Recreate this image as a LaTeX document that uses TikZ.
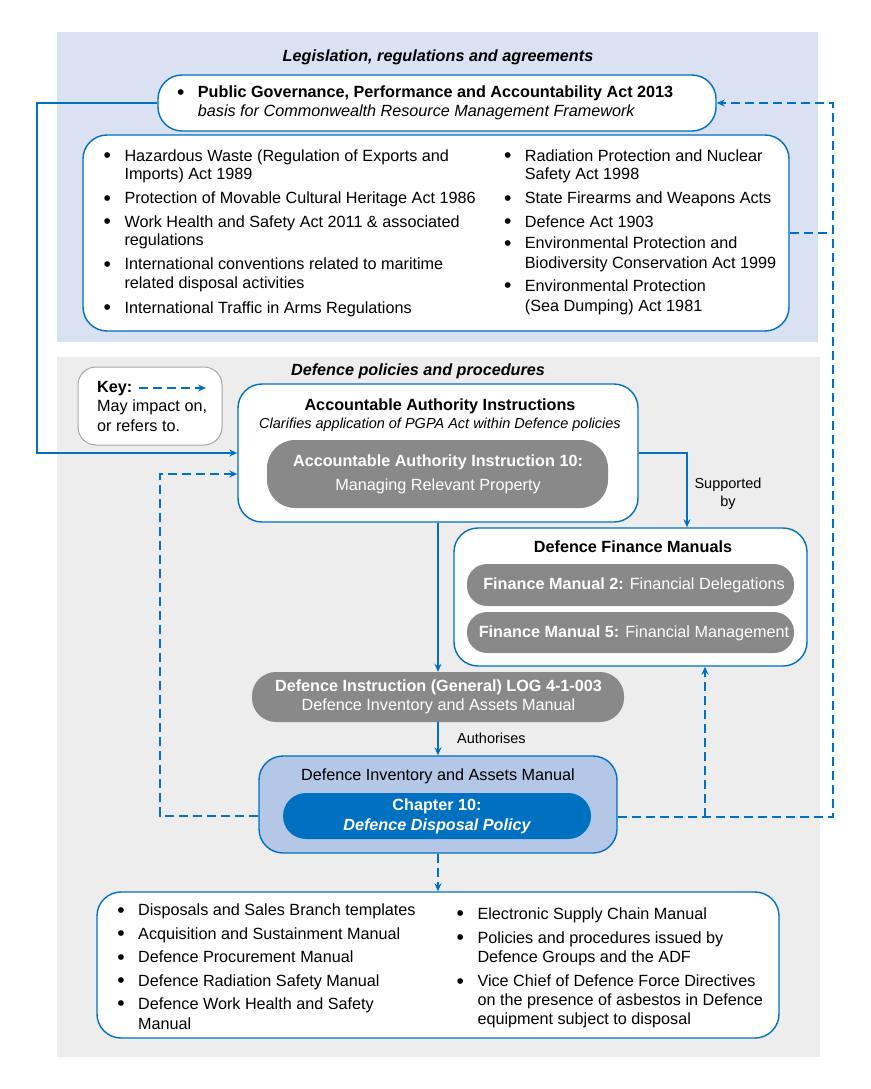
\documentclass[tikz,border=0pt]{standalone}
\usepackage{fontspec}
\setmainfont{Liberation Sans}
\usetikzlibrary{arrows.meta,calc}
\definecolor{myblue}{HTML}{0070C0}
\definecolor{topbg}{HTML}{D9E1F2}
\definecolor{greybg}{HTML}{EDEDED}
\definecolor{boxgrey}{HTML}{898989}
\definecolor{diamfill}{HTML}{B4C7E7}
\definecolor{keygrey}{HTML}{A6A6A6}
\newcommand\mybul{\raisebox{-1.6pt}{\scalebox{1.3}{\textbullet}}}
\newcommand\bline[4]{\node[txt,anchor=base west] (#1) at (#2,#3) {#4};}
\newcommand\bitem[4]{\node[txt,anchor=base west] (#1) at (#2,#3) {#4};
  \node[txt,anchor=base] (#1b) at ($(#2,#3)+(-17,0)$) {\mybul};}
\begin{document}
\begin{tikzpicture}[x=1pt,y=-1pt,
  txt/.style={inner sep=0pt, font=\fontsize{16.2}{18.5}\selectfont},
  lbl/.style={inner sep=0pt, font=\fontsize{14.5}{17}\selectfont},
  wtxt/.style={txt, text=white},
  bg/.style={inner sep=0pt, draw=none, anchor=north west},
  box/.style={draw=myblue, line width=1.4pt, fill=white, rounded corners=24pt, inner sep=0pt},
  pill/.style={fill=boxgrey, draw=none, inner sep=0pt},
  conn/.style={draw=myblue, line width=1.3pt, -{Stealth[length=8pt,width=7pt]}},
  dline/.style={draw=myblue, line width=1.3pt, dash pattern=on 9pt off 5pt},
  dconn/.style={conn, dash pattern=on 9pt off 5pt},
]
\path[use as bounding box] (0,0) rectangle (870,1089);

% backgrounds
\node[bg, fill=topbg, minimum width=761pt, minimum height=310pt] (legbg) at (57,32) {};
\node[bg, fill=greybg, minimum width=763pt, minimum height=700pt] (defbg) at (57,357) {};

\node[txt, anchor=base, font=\fontsize{16.2}{18.5}\selectfont\bfseries\itshape] (legtitle) at (438,61.7) {Legislation, regulations and agreements};
\node[txt, anchor=base, font=\fontsize{16.2}{18.5}\selectfont\bfseries\itshape] (deftitle) at (418,375) {Defence policies and procedures};

% PGPA box
\node[box, minimum width=558pt, minimum height=56pt] (pgpa) at (437,103) {};
\bitem{pg1}{197.7}{98}{\bfseries Public Governance, Performance and Accountability Act 2013}
\bline{pg2}{197.7}{117}{\itshape basis for Commonwealth Resource Management Framework}

% legislation box
\node[box, minimum width=706pt, minimum height=196pt] (leg) at (436,233) {};
\bitem{l1}{124.3}{161}{Hazardous Waste (Regulation of Exports and}
\bline{l1x}{124.3}{179.5}{Imports) Act 1989}
\bitem{l2}{124.3}{203.5}{Protection of Movable Cultural Heritage Act 1986}
\bitem{l3}{124.3}{227}{Work Health and Safety Act 2011 \& associated}
\bline{l3x}{124.3}{245.5}{regulations}
\bitem{l4}{124.3}{269.5}{International conventions related to maritime}
\bline{l4x}{124.3}{288.5}{related disposal activities}
\bitem{l5}{124.3}{313}{International Traffic in Arms Regulations}
\bitem{r1}{524.7}{161}{Radiation Protection and Nuclear}
\bline{r1x}{524.7}{179.5}{Safety Act 1998}
\bitem{r2}{524.7}{203.5}{State Firearms and Weapons Acts}
\bitem{r3}{524.7}{227}{Defence Act 1903}
\bitem{r4}{524.7}{248.5}{Environmental Protection and}
\bline{r4x}{524.7}{268.5}{Biodiversity Conservation Act 1999}
\bitem{r5}{524.7}{291}{Environmental Protection}
\bline{r5x}{524.7}{311.5}{(Sea Dumping) Act 1981}

% key
\node[draw=keygrey, line width=1pt, fill=white, rounded corners=18pt, minimum width=144pt, minimum height=78pt, inner sep=0pt] (key) at (150,406) {};
\bline{k1}{97}{392.3}{\bfseries Key:}
\bline{k2}{97}{411}{May impact on,}
\bline{k3}{97}{431}{or refers to.}
\coordinate (ka) at (139,388);
\coordinate (kb) at (206,388);
\draw[dconn] (ka) -- (kb);

% AAI
\node[box, minimum width=400pt, minimum height=138pt] (aai) at (438,453) {};
\node[txt, anchor=base, font=\fontsize{16.2}{18.5}\selectfont\bfseries] (aait) at (440,410) {Accountable Authority Instructions};
\node[lbl, anchor=base, font=\fontsize{14.5}{17}\selectfont\itshape] (aais) at (440,428.3) {Clarifies application of PGPA Act within Defence policies};
\node[pill, rounded corners=28pt, minimum width=341pt, minimum height=68pt] (aai10) at (437.5,474) {};
\node[wtxt, anchor=base, font=\fontsize{16.2}{18.5}\selectfont\bfseries] (aai10a) at (438,466.7) {Accountable Authority Instruction 10:};
\node[wtxt, anchor=base] (aai10b) at (438,490) {Managing Relevant Property};

% Finance
\node[box, minimum width=353pt, minimum height=138pt] (fin) at (630.5,597) {};
\node[txt, anchor=base, font=\fontsize{16.2}{18.5}\selectfont\bfseries] (fint) at (633,552.7) {Defence Finance Manuals};
\node[pill, rounded corners=20pt, minimum width=327pt, minimum height=42pt] (fm2) at (630.5,585) {};
\node[wtxt, anchor=base] (fm2t) at (634,589.3) {\textbf{Finance Manual 2:} Financial Delegations};
\node[pill, rounded corners=20pt, minimum width=327pt, minimum height=41pt] (fm5) at (630.5,632.5) {};
\node[wtxt, anchor=base] (fm5t) at (634,637.3) {\textbf{Finance Manual 5:} Financial Management};
\node[lbl, anchor=base] (sup1) at (728,488) {Supported};
\node[lbl, anchor=base] (sup2) at (728,506) {by};

% DI
\node[pill, rounded corners=24pt, minimum width=372pt, minimum height=50pt] (di) at (438,697) {};
\node[wtxt, anchor=base, font=\fontsize{16.2}{18.5}\selectfont\bfseries] (dia) at (438.5,691.7) {Defence Instruction (General) LOG 4-1-003};
\node[wtxt, anchor=base] (dib) at (438.5,710.7) {Defence Inventory and Assets Manual};
\node[lbl, anchor=base west] (auth) at (457,743.3) {Authorises};

% DIAM
\node[box, fill=diamfill, minimum width=358pt, minimum height=97pt] (diam) at (438,804.5) {};
\node[txt, anchor=base] (diamt) at (438,780.7) {Defence Inventory and Assets Manual};
\node[pill, fill=myblue, rounded corners=23pt, minimum width=308pt, minimum height=46pt] (ch10) at (437,816) {};
\node[wtxt, anchor=base, font=\fontsize{16.2}{18.5}\selectfont\bfseries] (ch10a) at (437,810.7) {Chapter 10:};
\node[wtxt, anchor=base, font=\fontsize{16.2}{18.5}\selectfont\bfseries\itshape] (ch10b) at (437,830.7) {Defence Disposal Policy};

% bottom box
\node[box, minimum width=682pt, minimum height=146pt] (bot) at (438,965) {};
\bitem{b1}{138}{915.7}{Disposals and Sales Branch templates}
\bitem{b2}{138}{939.3}{Acquisition and Sustainment Manual}
\bitem{b3}{138}{962.7}{Defence Procurement Manual}
\bitem{b4}{138}{986}{Defence Radiation Safety Manual}
\bitem{b5}{138}{1009.3}{Defence Work Health and Safety}
\bline{b5x}{138}{1029.3}{Manual}
\bitem{c1}{477.3}{919.3}{Electronic Supply Chain Manual}
\bitem{c2}{477.3}{943.3}{Policies and procedures issued by}
\bline{c2x}{477.3}{962.7}{Defence Groups and the ADF}
\bitem{c3}{477.3}{986.7}{Vice Chief of Defence Force Directives}
\bline{c3x}{477.3}{1005}{on the presence of asbestos in Defence}
\bline{c3y}{477.3}{1024.3}{equipment subject to disposal}

% connectors
\draw[conn] (pgpa.west) -- (37,103) |- (aai.west);
\draw[conn] (aai.east) -| ([xshift=56.5pt]fin.north);
\draw[conn] (aai.south) -- (di.north);
\draw[conn] (di.south) -- (diam.north);
\coordinate (br) at (705,817);
\draw[dconn] ([yshift=-12.5pt]diam.east) -- (833,817) |- (pgpa.east);
\draw[dconn] (br) -- (br |- fin.south);
\draw[dline] (leg.east) -- (833,233);
\draw[dconn] ([yshift=-11.5pt]diam.west) -- (160,816) |- ([yshift=-21pt]aai.west);
\draw[dconn] (diam.south) -- (bot.north);
\end{tikzpicture}
\end{document}
